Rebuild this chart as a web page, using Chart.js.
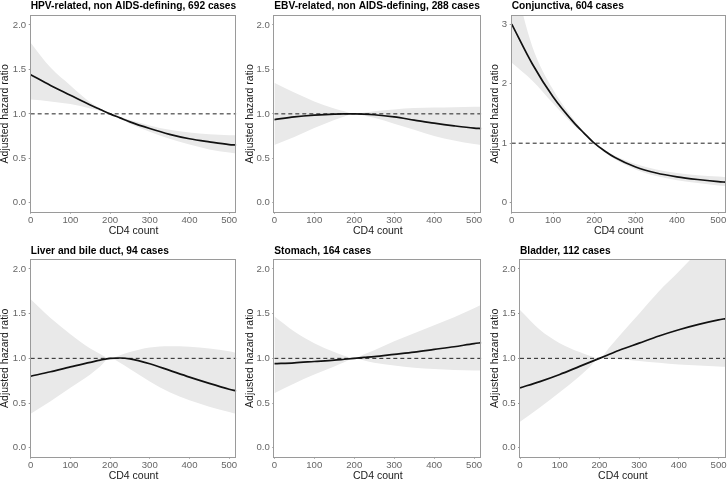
<!DOCTYPE html>
<html>
<head>
<meta charset="utf-8">
<script src="https://cdn.jsdelivr.net/npm/chart.js@4.4.1/dist/chart.umd.min.js"></script>
<style>
html,body{margin:0;padding:0;background:#fff;}
#wrap{position:relative;width:728px;height:481px;overflow:hidden;background:#fff;}
#wrap canvas{position:absolute;}
</style>
</head>
<body>
<div id="wrap"></div>
<script>
// ---------- data ----------
const cd4 = [0, 50, 100, 150, 175, 200, 225, 250, 300, 350, 400, 450, 500, 518];
const xTickValues = [0, 100, 200, 300, 400, 500];
const yTickValues = [0, 0.5, 1, 1.5, 2];
const yTickValuesConj = [0, 1, 2, 3];
const referenceHR = 1;
const xAxisTitle = "CD4 count";
const yAxisTitle = "Adjusted hazard ratio";

const panelTitles = [
  "HPV-related, non AIDS-defining, 692 cases",
  "EBV-related, non AIDS-defining, 288 cases",
  "Conjunctiva, 604 cases",
  "Liver and bile duct, 94 cases",
  "Stomach, 164 cases",
  "Bladder, 112 cases"
];

const hpvHR    = [1.44, 1.32, 1.21, 1.10, 1.05, 1.00, 0.955, 0.91, 0.835, 0.77, 0.72, 0.685, 0.655, 0.65];
const hpvUpper = [1.80, 1.52, 1.32, 1.13, 1.06, 1.00, 0.965, 0.93, 0.87, 0.82, 0.79, 0.77, 0.76, 0.76];
const hpvLower = [1.16, 1.14, 1.11, 1.06, 1.035, 1.00, 0.945, 0.89, 0.80, 0.72, 0.655, 0.60, 0.565, 0.555];

const ebvHR    = [0.935, 0.965, 0.985, 0.998, 1.00, 1.00, 0.997, 0.99, 0.965, 0.93, 0.895, 0.865, 0.84, 0.835];
const ebvUpper = [1.35, 1.24, 1.14, 1.06, 1.03, 1.00, 1.015, 1.03, 1.05, 1.065, 1.07, 1.075, 1.08, 1.08];
const ebvLower = [0.65, 0.74, 0.84, 0.93, 0.97, 1.00, 0.98, 0.955, 0.89, 0.82, 0.75, 0.70, 0.66, 0.65];

const conjHR    = [3.00, 2.33, 1.78, 1.35, 1.17, 1.00, 0.87, 0.76, 0.60, 0.50, 0.435, 0.39, 0.355, 0.345];
const conjUpper = [3.90, 2.62, 1.90, 1.40, 1.19, 1.00, 0.89, 0.79, 0.65, 0.56, 0.50, 0.46, 0.44, 0.43];
const conjLower = [2.35, 2.05, 1.67, 1.30, 1.15, 1.00, 0.85, 0.73, 0.56, 0.45, 0.38, 0.33, 0.29, 0.28];

const liverHR    = [0.80, 0.85, 0.905, 0.955, 0.98, 1.00, 1.004, 0.995, 0.94, 0.865, 0.79, 0.72, 0.655, 0.635];
const liverUpper = [1.66, 1.45, 1.27, 1.11, 1.05, 1.00, 1.035, 1.07, 1.12, 1.135, 1.13, 1.11, 1.08, 1.06];
const liverLower = [0.38, 0.52, 0.67, 0.82, 0.91, 1.00, 0.95, 0.88, 0.74, 0.62, 0.53, 0.46, 0.40, 0.38];

const stomachHR    = [0.94, 0.95, 0.965, 0.98, 0.99, 1.00, 1.01, 1.02, 1.045, 1.07, 1.10, 1.13, 1.165, 1.175];
const stomachUpper = [1.47, 1.30, 1.17, 1.07, 1.03, 1.00, 1.045, 1.09, 1.19, 1.28, 1.37, 1.46, 1.56, 1.60];
const stomachLower = [0.61, 0.72, 0.82, 0.91, 0.955, 1.00, 0.975, 0.95, 0.92, 0.895, 0.88, 0.87, 0.865, 0.865];

const bladderHR    = [0.67, 0.74, 0.82, 0.91, 0.955, 1.00, 1.045, 1.09, 1.17, 1.25, 1.32, 1.38, 1.43, 1.445];
const bladderUpper = [1.54, 1.32, 1.17, 1.07, 1.03, 1.00, 1.12, 1.25, 1.50, 1.75, 1.97, 2.20, 2.40, 2.47];
const bladderLower = [0.29, 0.45, 0.62, 0.80, 0.90, 1.00, 0.995, 0.99, 0.97, 0.95, 0.93, 0.92, 0.91, 0.905];

// ---------- panel definitions ----------
const panels = [
  {title: panelTitles[0], hr: hpvHR, hi: hpvUpper, lo: hpvLower, yTicks: yTickValues, yMin: -0.1, yMax: 2.1, dec: 1},
  {title: panelTitles[1], hr: ebvHR, hi: ebvUpper, lo: ebvLower, yTicks: yTickValues, yMin: -0.1, yMax: 2.1, dec: 1},
  {title: panelTitles[2], hr: conjHR, hi: conjUpper, lo: conjLower, yTicks: yTickValuesConj, yMin: -0.15, yMax: 3.135, dec: 0},
  {title: panelTitles[3], hr: liverHR, hi: liverUpper, lo: liverLower, yTicks: yTickValues, yMin: -0.1, yMax: 2.1, dec: 1},
  {title: panelTitles[4], hr: stomachHR, hi: stomachUpper, lo: stomachLower, yTicks: yTickValues, yMin: -0.1, yMax: 2.1, dec: 1},
  {title: panelTitles[5], hr: bladderHR, hi: bladderUpper, lo: bladderLower, yTicks: yTickValues, yMin: -0.1, yMax: 2.1, dec: 1}
];

// layout (canvas placement and plot-area geometry)
const layout = [
  {left: 0,   top: 0,   w: 242, h: 240, yW: 30.7, padTop: 16, padRight: 5.7, xH: 28.3, titleY: 9,    xTitlePad: 3.5},
  {left: 245, top: 0,   w: 240, h: 240, yW: 29.3, padTop: 16, padRight: 3.7, xH: 28.3, titleY: 9,    xTitlePad: 3.5},
  {left: 490, top: 0,   w: 238, h: 240, yW: 21.7, padTop: 16, padRight: 2.3, xH: 28.3, titleY: 9,    xTitlePad: 3.5},
  {left: 0,   top: 240, w: 242, h: 241, yW: 30.7, padTop: 20, padRight: 5.7, xH: 24.3, titleY: 13.5, xTitlePad: 0},
  {left: 245, top: 240, w: 240, h: 241, yW: 29.3, padTop: 20, padRight: 3.7, xH: 24.3, titleY: 13.5, xTitlePad: 0},
  {left: 490, top: 240, w: 238, h: 241, yW: 30,   padTop: 20, padRight: 2.3, xH: 24.3, titleY: 13.5, xTitlePad: 0}
];

const FONT = '"Liberation Sans", Arial, Helvetica, sans-serif';
Chart.defaults.font.family = FONT;

const BAND = '#e9e9e9';
const FRAME = '#9a9a9a';
const TICKTXT = '#666666';

const framePlugin = {
  id: 'panelFrame',
  afterDatasetsDraw(chart, args, opts) {
    const {ctx, chartArea: a} = chart;
    ctx.save();
    ctx.strokeStyle = FRAME;
    ctx.lineWidth = 1;
    const x0 = Math.round(a.left) - 0.5, y0 = Math.round(a.top) - 0.5;
    const x1 = Math.round(a.right) - 0.5, y1 = Math.round(a.bottom) + 0.5;
    ctx.strokeRect(x0, y0, x1 - x0, y1 - y0);
    ctx.restore();
  },
  afterDraw(chart, args, opts) {
    const {ctx, chartArea: a} = chart;
    ctx.save();
    ctx.fillStyle = '#000';
    ctx.font = 'bold 10.2px ' + FONT;
    ctx.textAlign = 'left';
    ctx.textBaseline = 'alphabetic';
    ctx.fillText(opts.text, a.left, opts.y);
    ctx.restore();
  }
};

const wrap = document.getElementById('wrap');

panels.forEach((p, i) => {
  const L = layout[i];
  const cv = document.createElement('canvas');
  cv.width = L.w; cv.height = L.h;
  cv.style.left = L.left + 'px'; cv.style.top = L.top + 'px';
  cv.style.width = L.w + 'px'; cv.style.height = L.h + 'px';
  wrap.appendChild(cv);

  const pts = arr => cd4.map((x, k) => ({x: x, y: arr[k]}));
  const refLine = [{x: cd4[0], y: referenceHR}, {x: cd4[cd4.length - 1], y: referenceHR}];

  new Chart(cv.getContext('2d'), {
    type: 'line',
    data: {
      datasets: [
        {label: 'upper', data: pts(p.hi), borderWidth: 0, borderColor: 'rgba(0,0,0,0)', backgroundColor: BAND,
         pointRadius: 0, fill: '+1', cubicInterpolationMode: 'monotone', order: 3},
        {label: 'lower', data: pts(p.lo), borderWidth: 0, borderColor: 'rgba(0,0,0,0)', backgroundColor: BAND,
         pointRadius: 0, fill: false, cubicInterpolationMode: 'monotone', order: 2},
        {label: 'ref', data: refLine, borderColor: '#222', borderWidth: 1, borderDash: [4, 3],
         pointRadius: 0, fill: false, order: 1},
        {label: 'HR', data: pts(p.hr), borderColor: '#111', borderWidth: 1.7,
         pointRadius: 0, fill: false, cubicInterpolationMode: 'monotone', order: 0}
      ]
    },
    options: {
      responsive: false,
      animation: false,
      devicePixelRatio: 1,
      events: [],
      layout: {padding: {left: 0, top: L.padTop, right: L.padRight, bottom: 0}},
      plugins: {
        legend: {display: false},
        tooltip: {enabled: false},
        title: {display: false},
        panelFrame: {text: p.title, y: L.titleY}
      },
      scales: {
        x: {
          type: 'linear',
          min: 0, max: cd4[cd4.length - 1],
          afterBuildTicks: s => { s.ticks = xTickValues.map(v => ({value: v})); },
          afterFit: s => { s.height = L.xH; },
          ticks: {autoSkip: false, maxRotation: 0, color: TICKTXT, padding: 1,
                  font: {size: 9.6, lineHeight: 1.15}, callback: v => String(v)},
          grid: {drawOnChartArea: false, drawTicks: true, tickLength: 2, color: FRAME},
          border: {display: false},
          title: {display: true, text: xAxisTitle, color: '#1a1a1a',
                  font: {size: 10.5, lineHeight: 1}, padding: {top: 0, bottom: L.xTitlePad}}
        },
        y: {
          type: 'linear',
          min: p.yMin, max: p.yMax,
          afterBuildTicks: s => { s.ticks = p.yTicks.map(v => ({value: v})); },
          afterFit: s => { s.width = L.yW; },
          ticks: {autoSkip: false, color: TICKTXT, padding: 2.5,
                  font: {size: 9.6}, callback: v => Number(v).toFixed(p.dec)},
          grid: {drawOnChartArea: false, drawTicks: true, tickLength: 2, color: FRAME},
          border: {display: false},
          title: {display: true, text: yAxisTitle, color: '#1a1a1a',
                  font: {size: 10.5, lineHeight: 1}, padding: {top: 0, bottom: 0}}
        }
      }
    },
    plugins: [framePlugin]
  });
});
</script>
</body>
</html>
